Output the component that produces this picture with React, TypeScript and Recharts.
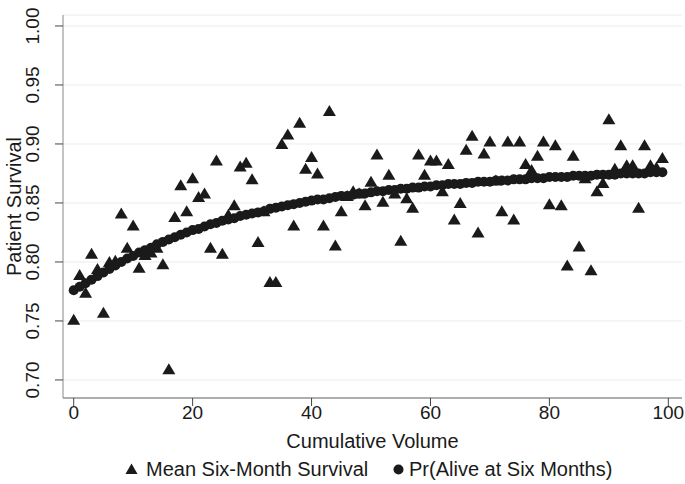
import React from 'react';
import { ScatterChart, Scatter, XAxis, YAxis, CartesianGrid, Label } from 'recharts';

// Mean six-month survival per cumulative volume (0..99)
const meanSurvival = [
  0.751, 0.789, 0.774, 0.807, 0.794, 0.757, 0.800, 0.801, 0.841, 0.812,
  0.831, 0.795, 0.806, 0.808, 0.812, 0.798, 0.709, 0.838, 0.865, 0.843,
  0.871, 0.855, 0.858, 0.812, 0.886, 0.807, 0.840, 0.848, 0.881, 0.884,
  0.870, 0.817, 0.843, 0.783, 0.783, 0.900, 0.908, 0.831, 0.918, 0.879,
  0.889, 0.875, 0.831, 0.928, 0.814, 0.843, 0.856, 0.860, 0.858, 0.848,
  0.868, 0.891, 0.851, 0.874, 0.858, 0.818, 0.854, 0.846, 0.891, 0.874,
  0.886, 0.886, 0.860, 0.883, 0.836, 0.850, 0.895, 0.907, 0.825, 0.892,
  0.902, 0.869, 0.843, 0.902, 0.836, 0.902, 0.883, 0.878, 0.890, 0.902,
  0.849, 0.899, 0.848, 0.797, 0.890, 0.813, 0.871, 0.793, 0.860, 0.867,
  0.921, 0.879, 0.899, 0.882, 0.882, 0.846, 0.899, 0.882, 0.880, 0.888,
];

// Pr(Alive at six months), fitted curve
const fittedSurvival = [
  0.776, 0.779, 0.782, 0.785, 0.788, 0.791, 0.794, 0.797, 0.800, 0.803,
  0.805, 0.808, 0.810, 0.812, 0.815, 0.817, 0.819, 0.821, 0.823, 0.825,
  0.827, 0.828, 0.830, 0.832, 0.833, 0.835, 0.836, 0.837, 0.839, 0.840,
  0.841, 0.842, 0.843, 0.845, 0.846, 0.847, 0.848, 0.849, 0.850, 0.851,
  0.852, 0.853, 0.853, 0.854, 0.855, 0.856, 0.856, 0.857, 0.858, 0.858,
  0.859, 0.860, 0.860, 0.861, 0.861, 0.862, 0.862, 0.863, 0.863, 0.864,
  0.864, 0.865, 0.865, 0.866, 0.866, 0.866, 0.867, 0.867, 0.868, 0.868,
  0.868, 0.869, 0.869, 0.869, 0.870, 0.870, 0.870, 0.871, 0.871, 0.871,
  0.872, 0.872, 0.872, 0.872, 0.873, 0.873, 0.873, 0.873, 0.874, 0.874,
  0.874, 0.874, 0.875, 0.875, 0.875, 0.875, 0.875, 0.876, 0.876, 0.876,
];

const xTicks = [0, 20, 40, 60, 80, 100];
const yTicks = [0.7, 0.75, 0.8, 0.85, 0.9, 0.95, 1.0];

const meanData = meanSurvival.map((value, volume) => ({ volume, value }));
const fitData = fittedSurvival.map((value, volume) => ({ volume, value }));

const INK = '#1a1a1a';
const FONT = '"Liberation Sans", Arial, Helvetica, sans-serif';
const FS = 19;
const TITLE_FS = 20;

const Triangle = (props: any) => {
  const { cx, cy } = props;
  return <polygon points={`${cx},${cy - 6} ${cx - 6.5},${cy + 5} ${cx + 6.5},${cy + 5}`} fill={INK} />;
};

const Dot = (props: any) => <circle cx={props.cx} cy={props.cy} r={5} fill={INK} />;

const YTick = (props: any) => {
  const { y, payload } = props;
  const x = 33;
  return (
    <text x={x} y={y} transform={`rotate(-90, ${x}, ${y})`} textAnchor="middle" dominantBaseline="central"
      fontSize={FS} fontFamily={FONT} fill={INK}>
      {payload.value.toFixed(2)}
    </text>
  );
};

const XTick = (props: any) => {
  const { x, payload } = props;
  return (
    <text x={x} y={412} textAnchor="middle" dominantBaseline="central" fontSize={FS} fontFamily={FONT} fill={INK}>
      {payload.value}
    </text>
  );
};

const legendText: React.CSSProperties = { position: 'absolute', top: 458, fontSize: TITLE_FS, fontFamily: FONT, color: INK, lineHeight: '22px', whiteSpace: 'nowrap' };

export default function App() {
  return (
    <div style={{ position: 'absolute', left: 0, top: 0, width: 685, height: 484, background: '#fff' }}>
      <ScatterChart width={685} height={484} margin={{ top: 15, right: 3, bottom: 0, left: 0 }}>
        <CartesianGrid vertical={false} stroke="#ececec" />
        <XAxis type="number" dataKey="volume" domain={[-1.8, 102.3]} ticks={xTicks} allowDataOverflow
          height={86} tickSize={8} axisLine={{ stroke: '#666' }} tickLine={{ stroke: '#444' }} tick={<XTick />}>
          <Label content={(p: any) => (
            <text x={p.viewBox.x + p.viewBox.width / 2} y={441} textAnchor="middle" dominantBaseline="central"
              fontSize={TITLE_FS} fontFamily={FONT} fill={INK}>Cumulative Volume</text>
          )} />
        </XAxis>
        <YAxis type="number" dataKey="value" domain={[0.6847, 1.0093]} ticks={yTicks} allowDataOverflow
          width={63} tickSize={8} axisLine={{ stroke: '#888' }} tickLine={{ stroke: '#444' }} tick={<YTick />}>
          <Label content={(p: any) => {
            const cy = p.viewBox.y + p.viewBox.height / 2;
            return (
              <text x={14} y={cy} transform={`rotate(-90, 14, ${cy})`} textAnchor="middle" dominantBaseline="central"
                fontSize={TITLE_FS} fontFamily={FONT} fill={INK}>Patient Survival</text>
            );
          }} />
        </YAxis>
        <Scatter name="Mean Six-Month Survival" data={meanData} shape={<Triangle />} isAnimationActive={false} />
        <Scatter name="Pr(Alive at Six Months)" data={fitData} shape={<Dot />} isAnimationActive={false} />
      </ScatterChart>
      <svg style={{ position: 'absolute', left: 125, top: 463 }} width={13} height={12}>
        <polygon points="6.5,0.5 0.5,11 12.5,11" fill={INK} />
      </svg>
      <div style={{ ...legendText, left: 146 }}>Mean Six-Month Survival</div>
      <svg style={{ position: 'absolute', left: 393, top: 464 }} width={11} height={11}>
        <circle cx={5.5} cy={5.5} r={5} fill={INK} />
      </svg>
      <div style={{ ...legendText, left: 409 }}>Pr(Alive at Six Months)</div>
    </div>
  );
}
